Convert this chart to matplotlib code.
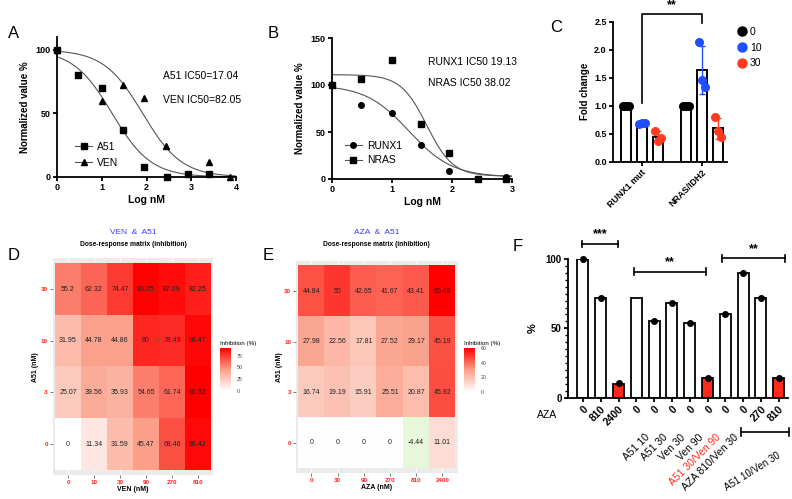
import numpy as np
import matplotlib
matplotlib.use('Agg')
import matplotlib.pyplot as plt
from matplotlib.colors import LinearSegmentedColormap
from matplotlib.lines import Line2D
from matplotlib.ticker import MultipleLocator

plt.rcParams['font.family'] = ['Liberation Sans', 'DejaVu Sans']

W, H = 792, 499

# ---- A: A51 / VEN dose response (log nM vs normalized %)
a51_x = [0, 0.48, 1.0, 1.48, 1.95, 2.45, 2.93, 3.4]
a51_y = [100, 80, 70, 37, 8, 0, 2, 2]
ven_x = [0, 1.0, 1.48, 1.95, 2.43, 3.4, 3.87]
ven_y = [100, 60, 72, 62, 24, 12, 0]
# fitted 4PL: top, bottom, IC50 (nM), hill
a51_fit = (100, 0, 17.04, 1.0)
ven_fit = (100, 0, 82.05, 1.0)

# ---- B: RUNX1 / NRAS dose response
runx1_x = [0, 0.48, 1.0, 1.48, 1.95, 2.43, 2.9]
runx1_y = [100, 79, 70, 36, 8, 0, 2]
nras_x = [0, 0.48, 1.0, 1.48, 1.95, 2.43, 2.9]
nras_y = [100, 106, 127, 58, 28, 0, 0]
runx1_fit = (100, 2, 19.13, 1.2)
nras_fit = (111, 3, 38.02, 2.0)

# ---- C: fold change
c_groups = ['RUNX1 mut', 'NRAS/IDH2']
c_doses = ['0', '10', '30']
c_runx1 = [[1.0, 1.0, 1.0], [0.68, 0.70, 0.69], [0.55, 0.37, 0.43]]
c_nras = [[1.0, 1.0, 1.0], [2.13, 1.45, 1.33], [0.80, 0.55, 0.44]]

# ---- D / E: dose-response matrices (rows top->bottom: A51 30, 10, 3, 0)
a51_doses = ['30', '10', '3', '0']
ven_doses = ['0', '10', '30', '90', '270', '810']
aza_doses = ['0', '30', '90', '270', '810', '2400']
d_matrix = [[55.2, 62.32, 74.47, 90.25, 87.09, 82.25],
            [31.95, 44.78, 44.86, 80, 78.49, 88.47],
            [25.07, 39.56, 35.93, 54.65, 61.74, 91.32],
            [0, 11.34, 31.59, 45.47, 68.46, 88.42]]
e_matrix = [[44.84, 50, 42.65, 41.67, 43.41, 60.45],
            [27.98, 22.56, 17.81, 27.52, 29.17, 45.19],
            [16.74, 19.19, 15.91, 25.51, 20.87, 45.92],
            [0, 0, 0, 0, -4.44, 11.01]]

# ---- F: viability %
f_aza = ['0', '810', '2400', '0', '0', '0', '0', '0', '0', '0', '270', '810']
f_values = [100, 72, 10, 72, 55, 68, 54, 14, 60, 90, 72, 14]
f_points = [100, 72, 10.5, None, 55, 68, 54, 14, 60, 90, 72, 14]
f_treat = ['', '', '', 'A51 10', 'A51 30', 'Ven 30', 'Ven 90', 'A51 30/Ven 90',
           'AZA 810/Ven 30', '', '', '']
f_group_label = 'A51 10/Ven 30'


def px(x0, y0, x1, y1):
    return [x0 / W, 1 - y1 / H, (x1 - x0) / W, (y1 - y0) / H]


def four_pl(x, top, bottom, ic50, hill):
    return bottom + (top - bottom) / (1 + 10 ** ((x - np.log10(ic50)) * hill))


def prism(ax, size=6.5):
    for s in ['top', 'right']:
        ax.spines[s].set_visible(False)
    for s in ['left', 'bottom']:
        ax.spines[s].set_linewidth(1.3)
    ax.tick_params(width=1.3, length=3, labelsize=size, pad=1.5)


def bold_ticks(ax):
    for t in ax.get_xticklabels() + ax.get_yticklabels():
        t.set_fontweight('bold')


fig = plt.figure(figsize=(W / 100, H / 100), dpi=100)

# ================= A
axA = fig.add_axes(px(57, 37, 236, 177))
xs = np.linspace(0, 4, 200)
axA.plot(xs, four_pl(xs, *a51_fit), color='#555555', lw=0.8)
axA.plot(xs, four_pl(xs, *ven_fit), color='#555555', lw=0.8)
axA.plot(a51_x, a51_y, 's', color='black', ms=4.2, clip_on=False)
axA.plot(ven_x, ven_y, '^', color='black', ms=4.2, clip_on=False)
axA.set_xlim(0, 4)
axA.set_ylim(0, 110)
axA.set_xticks([0, 1, 2, 3, 4])
axA.set_yticks([0, 50, 100])
prism(axA)
bold_ticks(axA)
axA.set_xlabel('Log nM', fontsize=7.5, fontweight='bold', labelpad=2)
axA.set_ylabel('Normalized value %', fontsize=7, fontweight='bold', labelpad=4)
hA = [Line2D([], [], color='#555555', lw=0.8, marker='s', ms=4.2, mfc='black', mec='black'),
      Line2D([], [], color='#555555', lw=0.8, marker='^', ms=4.2, mfc='black', mec='black')]
axA.legend(hA, ['A51', 'VEN'], loc='lower left', bbox_to_anchor=(0.05, 0.0), frameon=False,
           fontsize=7.5, handlelength=1.6, labelspacing=0.55, handletextpad=0.5)
axA.text(0.59, 0.72, f"A51 IC50={a51_fit[2]:.2f}", transform=axA.transAxes, fontsize=7.5, va='center')
axA.text(0.59, 0.55, f"VEN IC50={ven_fit[2]:.2f}", transform=axA.transAxes, fontsize=7.5, va='center')
fig.text(8 / W, 1 - 34 / H, 'A', fontsize=12, va='center')

# ================= B
axB = fig.add_axes(px(332, 38, 512, 179))
xs = np.linspace(0, 3, 200)
axB.plot(xs, four_pl(xs, *runx1_fit), color='#555555', lw=0.8)
axB.plot(xs, four_pl(xs, *nras_fit), color='#555555', lw=0.8)
axB.plot(runx1_x, runx1_y, 'o', color='black', ms=4, clip_on=False)
axB.plot(nras_x, nras_y, 's', color='black', ms=4.2, clip_on=False)
axB.set_xlim(0, 3)
axB.set_ylim(0, 150)
axB.set_xticks([0, 1, 2, 3])
axB.set_yticks([0, 50, 100, 150])
prism(axB)
bold_ticks(axB)
axB.set_xlabel('Log nM', fontsize=7.5, fontweight='bold', labelpad=2)
axB.set_ylabel('Normalized value %', fontsize=7, fontweight='bold', labelpad=4)
hB = [Line2D([], [], color='#555555', lw=0.8, marker='o', ms=4, mfc='black', mec='black'),
      Line2D([], [], color='#555555', lw=0.8, marker='s', ms=4.2, mfc='black', mec='black')]
axB.legend(hB, ['RUNX1', 'NRAS'], loc='lower left', bbox_to_anchor=(0.02, 0.03), frameon=False,
           fontsize=7.5, handlelength=1.6, labelspacing=0.45, handletextpad=0.5)
axB.text(0.535, 0.83, f"RUNX1 IC50 {runx1_fit[2]:.2f}", transform=axB.transAxes, fontsize=7.5, va='center')
axB.text(0.535, 0.68, f"NRAS IC50 {nras_fit[2]:.2f}", transform=axB.transAxes, fontsize=7.5, va='center')
fig.text(268 / W, 1 - 34 / H, 'B', fontsize=12, va='center')

# ================= C
axC = fig.add_axes(px(613, 21.7, 727, 161.7))
dose_colors = ['#000000', '#1f4fff', '#ff3b1f']
offs = [-0.267, 0, 0.267]
jit = [-0.05, 0.0, 0.05]
for gi, group in enumerate([c_runx1, c_nras]):
    for di, vals in enumerate(group):
        x = gi + offs[di]
        m = np.mean(vals)
        sd = np.std(vals, ddof=1)
        axC.bar(x, m, width=0.17, color='white', edgecolor='black', lw=1.4, zorder=2)
        axC.errorbar(x, m, yerr=sd, color=dose_colors[di], lw=1, capsize=2, zorder=3)
        axC.scatter([x + j for j in jit], vals, s=30, color=dose_colors[di], zorder=4, clip_on=False)
axC.set_xlim(-0.478, 1.42)
axC.set_ylim(0, 2.5)
axC.set_yticks([0, 0.5, 1.0, 1.5, 2.0, 2.5])
axC.set_yticklabels(['0.0', '0.5', '1.0', '1.5', '2.0', '2.5'])
axC.set_xticks([0, 1])
axC.set_xticklabels(c_groups, rotation=45, ha='right', rotation_mode='anchor')
prism(axC, size=6.5)
bold_ticks(axC)
axC.set_ylabel('Fold change', fontsize=7, fontweight='bold', labelpad=3)
axC.plot([0, 0, 1, 1], [1.05, 2.64, 2.64, 2.48], color='black', lw=1.2, clip_on=False)
axC.text(0.5, 2.68, '**', ha='center', va='bottom', fontsize=9, fontweight='bold')
hC = [Line2D([], [], ls='', marker='o', ms=6.5, color=c) for c in dose_colors]
axC.legend(hC, c_doses, loc='upper left', bbox_to_anchor=(1.0, 1.03), frameon=False,
           fontsize=7.5, handletextpad=0.3, labelspacing=0.55, handlelength=1)
fig.text(550 / W, 1 - 28 / H, 'C', fontsize=12, va='center')


# ================= D / E heatmaps
def heatmap(ax, cax, data, xlabels, cmap, vmin, vmax, cticks, xname, combo):
    data = np.array(data, dtype=float)
    ax.set_facecolor('#ebebeb')
    im = ax.imshow(data, cmap=cmap, vmin=vmin, vmax=vmax, aspect='auto', zorder=1)
    ax.set_xticks(range(len(xlabels)))
    ax.set_xticklabels(xlabels)
    ax.set_yticks(range(len(a51_doses)))
    ax.set_yticklabels(a51_doses)
    ax.grid(color='white', lw=0.6)
    ax.set_axisbelow(True)
    ax.set_xlim(-0.59, len(xlabels) - 0.41)
    ax.set_ylim(len(a51_doses) - 0.4, -0.6)
    for s in ax.spines.values():
        s.set_visible(False)
    ax.tick_params(length=2, width=0.5, color='#444444', labelsize=4.5, labelcolor='#ff2020', pad=1.5)
    for t in ax.get_xticklabels() + ax.get_yticklabels():
        t.set_fontweight('bold')
    for i in range(data.shape[0]):
        for j in range(data.shape[1]):
            ax.text(j, i, f"{data[i, j]:g}", ha='center', va='center', fontsize=5, color='#222222', zorder=3)
    ax.set_xlabel(xname, fontsize=5, fontweight='bold', labelpad=1)
    ax.set_ylabel('A51 (nM)', fontsize=5, fontweight='bold', labelpad=1)
    cb = fig.colorbar(im, cax=cax)
    cb.outline.set_visible(False)
    cb.set_ticks(cticks)
    cax.tick_params(labelsize=3.8, length=2, width=0.4, color='white', pad=2, labelcolor='#444444')
    cax.set_title('Inhibition (%)', fontsize=4.5, loc='left', pad=2)
    pos = ax.get_position()
    cx = (pos.x0 + pos.x1) / 2
    fig.text(cx, 1 - 233 / H, combo, color='#3a3aff', fontsize=6, ha='center', va='center')
    fig.text(cx, 1 - 245 / H, 'Dose-response matrix (inhibition)', fontsize=4.8,
             fontweight='bold', ha='center', va='center')


cmap_d = LinearSegmentedColormap.from_list('wr', [(0, '#ffffff'), (0.5, '#fb9f88'), (1, '#ff0000')])
axD = fig.add_axes(px(52.7, 258.3, 213.3, 475))
caxD = fig.add_axes(px(220, 348, 231, 391))
heatmap(axD, caxD, d_matrix, ven_doses, cmap_d, 0, np.max(d_matrix), [0, 25, 50, 75], 'VEN (nM)', 'VEN  &  A51')
fig.text(8 / W, 1 - 255 / H, 'D', fontsize=12, va='center')

e_min, e_max = np.min(e_matrix), np.max(e_matrix)
z = -e_min / (e_max - e_min)
cmap_e = LinearSegmentedColormap.from_list('gwr', [(0, '#e6f7da'), (z, '#ffffff'),
                                                   ((1 + z) / 2, '#fb9f88'), (1, '#ff0000')])
axE = fig.add_axes(px(296, 260.7, 457.7, 473))
caxE = fig.add_axes(px(464, 348, 475, 392))
heatmap(axE, caxE, e_matrix, aza_doses, cmap_e, e_min, e_max, [0, 20, 40, 60], 'AZA (nM)', 'AZA  &  A51')
caxE.set_ylim(0, e_max)
fig.text(263 / W, 1 - 255 / H, 'E', fontsize=12, va='center')

# ================= F
axF = fig.add_axes(px(568, 259, 788, 397.7))
fx = np.arange(len(f_values))
red_bars = {2, 7, 11}
for i, v in enumerate(f_values):
    axF.bar(i, v, width=0.62, color='#ff2a1a' if i in red_bars else 'white',
            edgecolor='black', lw=1.3, zorder=2)
    if f_points[i] is not None:
        axF.plot(i, f_points[i], 'o', color='black', ms=4, zorder=3, clip_on=False)
axF.set_xlim(-0.84, 11.52)
axF.set_ylim(0, 100)
axF.set_yticks([0, 50, 100])
axF.yaxis.set_minor_locator(MultipleLocator(5))
axF.set_xticks(fx)
axF.set_xticklabels(f_aza, rotation=45, ha='right', rotation_mode='anchor')
prism(axF, size=7.5)
axF.tick_params(axis='y', which='minor', width=1, length=2.5)
axF.tick_params(axis='y', labelsize=7)
bold_ticks(axF)
axF.set_ylabel('%', fontsize=8, fontweight='bold', labelpad=6)
axF.text(-0.05, -0.125, 'AZA', transform=axF.transAxes, fontsize=7.5, ha='right', va='center')
tr = axF.get_xaxis_transform()
for i, lab in enumerate(f_treat):
    if lab:
        axF.text(i + 0.45, -0.25, lab, transform=tr, rotation=45, ha='right', va='top',
                 rotation_mode='anchor', fontsize=7.5,
                 color='#ff2a1a' if i in red_bars else 'black')
axF.plot([8.9, 11.6], [-0.247, -0.247], transform=tr, color='black', lw=1.2, clip_on=False)
for xe in [8.9, 11.6]:
    axF.plot([xe, xe], [-0.22, -0.274], transform=tr, color='black', lw=1.2, clip_on=False)
axF.text(10.9, -0.38, f_group_label, transform=tr, rotation=32, ha='right', va='top',
         rotation_mode='anchor', fontsize=7)


def bracket(ax, x0, x1, y, label):
    ax.plot([x0, x1], [y, y], color='black', lw=1.2, clip_on=False)
    for xe in [x0, x1]:
        ax.plot([xe, xe], [y - 2.5, y + 2.5], color='black', lw=1.2, clip_on=False)
    ax.text((x0 + x1) / 2, y + 2.5, label, ha='center', va='bottom', fontsize=9, fontweight='bold')


bracket(axF, -0.07, 1.99, 110.8, '***')
bracket(axF, 2.88, 6.93, 90.8, '**')
bracket(axF, 7.83, 11.33, 100.5, '**')
fig.text(513 / W, 1 - 247 / H, 'F', fontsize=12, va='center')

plt.savefig('out.png', dpi=100)
